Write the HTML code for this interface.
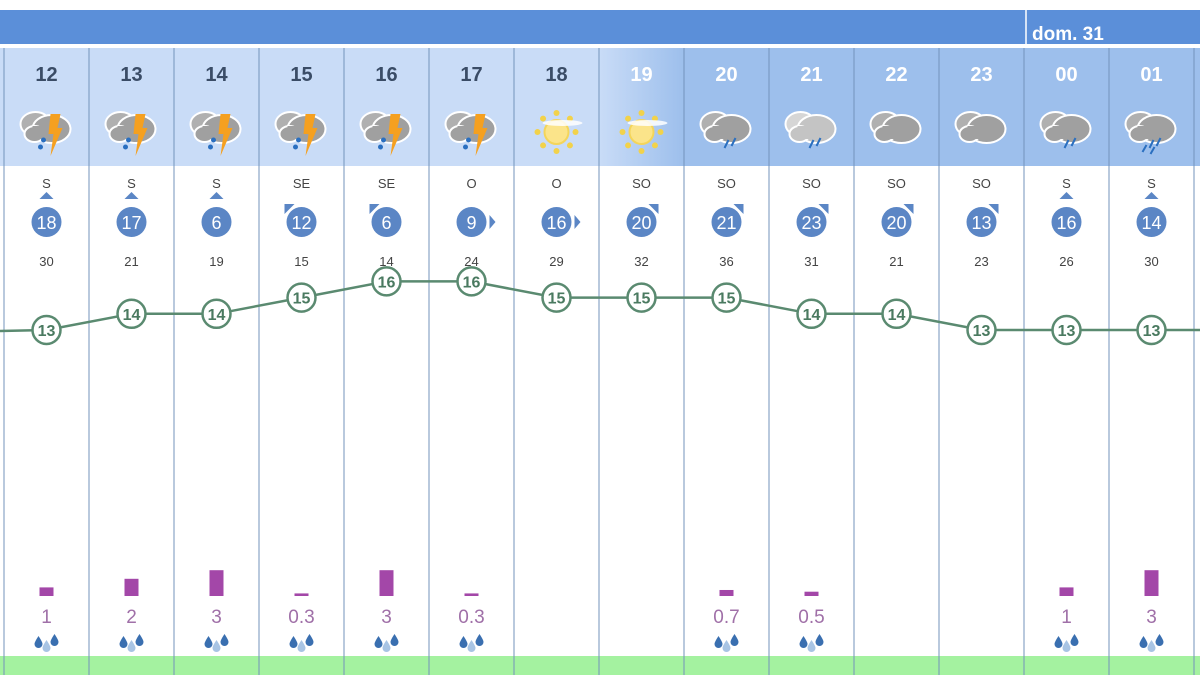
<!DOCTYPE html>
<html><head><meta charset="utf-8">
<style>
body{margin:0;width:1200px;height:675px;overflow:hidden;background:#fff;font-family:"Liberation Sans",sans-serif}
svg text{font-family:"Liberation Sans","DejaVu Sans",sans-serif}
</style></head>
<body>
<svg id="c" width="1200" height="675" xmlns="http://www.w3.org/2000/svg">
<defs>
<linearGradient id="g19" x1="0" x2="1"><stop offset="0" stop-color="#c9dcf7"/><stop offset="1" stop-color="#9dbfec"/></linearGradient>
</defs>
</svg>
<script>
const hours=["12","13","14","15","16","17","18","19","20","21","22","23","00","01"];
const icons=["storm","storm","storm","storm","storm","storm","sun","sun","rain","rainl","cloud","cloud","rain","rain2"];
const windDir=["S","S","S","SE","SE","O","O","SO","SO","SO","SO","SO","S","S"];
const windSpeed=[18,17,6,12,6,9,16,20,21,23,20,13,16,14];
const gusts=[30,21,19,15,14,24,29,32,36,31,21,23,26,30];
const temps=[13,14,14,15,16,16,15,15,15,14,14,13,13,13];
const precip=[1,2,3,0.3,3,0.3,null,null,0.7,0.5,null,null,1,3];
const precipLabels=["1","2","3","0.3","3","0.3","","","0.7","0.5","","","1","3"];
const svg=document.getElementById('c');const NS="http://www.w3.org/2000/svg";
function el(t,a,p){const e=document.createElementNS(NS,t);for(const k in a)e.setAttribute(k,a[k]);(p||svg).appendChild(e);return e;}
const x0=4,cw=85;const cx=i=>x0+cw*i+cw/2;
const ty=t=>330-(t-13)*16.2;
const py=v=>Math.max(2,v*8.6);
let b=el('rect',{x:0,y:10,width:1200,height:34,fill:'#5b8fd9'});

el('line',{x1:1026,y1:10,x2:1026,y2:44,stroke:'#fff','stroke-width':1.5});
let d=el('text',{x:1032,y:40,fill:'#fff','font-size':19,'font-weight':'bold'});d.textContent='dom. 31';

hours.forEach((h,i)=>{
 const x=x0+cw*i;
 const fill=i<7?'#c9dcf7':(i==7?'url(#g19)':'#9dbfec');
 const r=el('rect',{x:x,y:48,width:cw,height:118,fill:fill});
 
 const t=el('text',{x:cx(i),y:81,'text-anchor':'middle','font-size':20,'font-weight':'bold',fill:i<7?'#3a4c66':'#fff'});t.textContent=h;
 
 drawIcon(icons[i],cx(i),128);
});
el('rect',{x:0,y:48,width:4,height:118,fill:'#c9dcf7'});
el('rect',{x:1194,y:48,width:6,height:118,fill:'#9dbfec'});
for(let i=0;i<=14;i++){const x=x0+cw*i;const s=el('line',{x1:x,y1:48,x2:x,y2:675,stroke:'#7393bb','stroke-width':1});
 }
function drawIcon(k,x,y){
 const g=el('g',{});
 if(k=='sun'){
  for(let a=0;a<8;a++){const an=a*Math.PI/4;el('circle',{cx:x+Math.cos(an)*19,cy:y+4+Math.sin(an)*19,r:3,fill:'#f2d24a'},g);}
  el('circle',{cx:x,cy:y+4,r:12,fill:'#fbe48a',stroke:'#f4d55a','stroke-width':2},g);
  el('ellipse',{cx:x+6,cy:y-5,rx:20,ry:3,fill:'#fff',opacity:0.85},g);
  return;}
 const dark=(k=='rainl')?'#c4c4c4':'#a0a0a0';const back=(k=='rainl')?'#d6d6d6':'#b0b0b0';
 el('ellipse',{cx:x-11,cy:y-4,rx:15,ry:12,fill:back,stroke:'#fff','stroke-width':2},g);
 el('ellipse',{cx:x+5,cy:y+1,rx:19,ry:14,fill:dark,stroke:'#fff','stroke-width':2},g);
 el('ellipse',{cx:x-12,cy:y+6,rx:10,ry:8,fill:dark,stroke:'#fff','stroke-width':2},g);
 el('rect',{x:x-14,y:y-2,width:30,height:13,fill:dark},g);
 if(k=='storm'){
  el('polygon',{points:`${x+4},${y-14} ${x+14},${y-14} ${x+11},${y} ${x+16},${y} ${x+4},${y+28} ${x+7},${y+6} ${x+2},${y+6}`,fill:'#f5a020'},g);
  el('circle',{cx:x-3,cy:y+12,r:2.5,fill:'#2a6fc0'},g);el('circle',{cx:x-6,cy:y+19,r:2.5,fill:'#2a6fc0'},g);}
 if(k=='rain'||k=='rainl'||k=='rain2'){
  el('line',{x1:x+2,y1:y+12,x2:x-2,y2:y+20,stroke:'#2a6fc0','stroke-width':2},g);
  el('line',{x1:x+9,y1:y+10,x2:x+5,y2:y+18,stroke:'#2a6fc0','stroke-width':2},g);
  if(k=='rain2'){el('line',{x1:x-5,y1:y+17,x2:x-9,y2:y+24,stroke:'#2a6fc0','stroke-width':2},g);el('line',{x1:x+3,y1:y+19,x2:x-1,y2:y+26,stroke:'#2a6fc0','stroke-width':2},g);}
 }
}
hours.forEach((h,i)=>{
 const x=cx(i);
 const t=el('text',{x:x,y:188,'text-anchor':'middle','font-size':13,fill:'#444'});t.textContent=windDir[i];
 
 const dir=windDir[i];let p;
 if(dir=='S')p=`${x-7},199 ${x+7},199 ${x},192`;
 else if(dir=='SE')p=`${x-17},204 ${x-7},204 ${x-17},214`;
 else if(dir=='O')p=`${x+18},215 ${x+18},229 ${x+24},222`;
 else p=`${x+17},204 ${x+7},204 ${x+17},214`;
 el('polygon',{points:p,fill:'#5b86c5'});
 const c=el('circle',{cx:x,cy:222,r:15,fill:'#5b86c5'});
 
 const s=el('text',{x:x,y:229,'text-anchor':'middle','font-size':18,fill:'#fff'});s.textContent=windSpeed[i];
 const gt=el('text',{x:x,y:266,'text-anchor':'middle','font-size':13,fill:'#444'});gt.textContent=gusts[i];
 
});
let pts=[[0,ty(temps[0])+1]];temps.forEach((t,i)=>pts.push([cx(i),ty(t)]));pts.push([1200,ty(temps[temps.length-1])]);
const ln=el('polyline',{points:pts.map(p=>p.join(',')).join(' '),fill:'none',stroke:'#5a8a70','stroke-width':2.5});

temps.forEach((t,i)=>{
 const c=el('circle',{cx:cx(i),cy:ty(t),r:14,fill:'#fff',stroke:'#5a8a70','stroke-width':2.5});
 
 const tx=el('text',{x:cx(i),y:ty(t)+6,'text-anchor':'middle','font-size':16,'font-weight':'bold',fill:'#4a7a60'});tx.textContent=t;
});
precip.forEach((v,i)=>{
 if(v==null)return;const x=cx(i);
 const h=py(v);
 const r=el('rect',{x:x-7,y:596-h,width:14,height:h,fill:'#a347a8'});
 
 const t=el('text',{x:x,y:623,'text-anchor':'middle','font-size':19,fill:'#a070a8'});t.textContent=precipLabels[i];
 
 const g=el('g',{});
 
 [[-8,'#3a6fb0',0],[0,'#a8c4e4',4],[8,'#3a6fb0',-2]].forEach(([dx,c,dy])=>{
  el('path',{d:`M${x+dx},${636+dy} q-4,6 -4,8 a4,4 0 0 0 8,0 q0,-2 -4,-8z`,fill:c},g);});
});
const gr=el('rect',{x:0,y:656,width:1200,height:19,fill:'#a4f2a0'});

for(let i=0;i<=14;i++){const x=x0+cw*i;el('line',{x1:x,y1:656,x2:x,y2:675,stroke:'#7393bb'});}
</script>
</body></html>
